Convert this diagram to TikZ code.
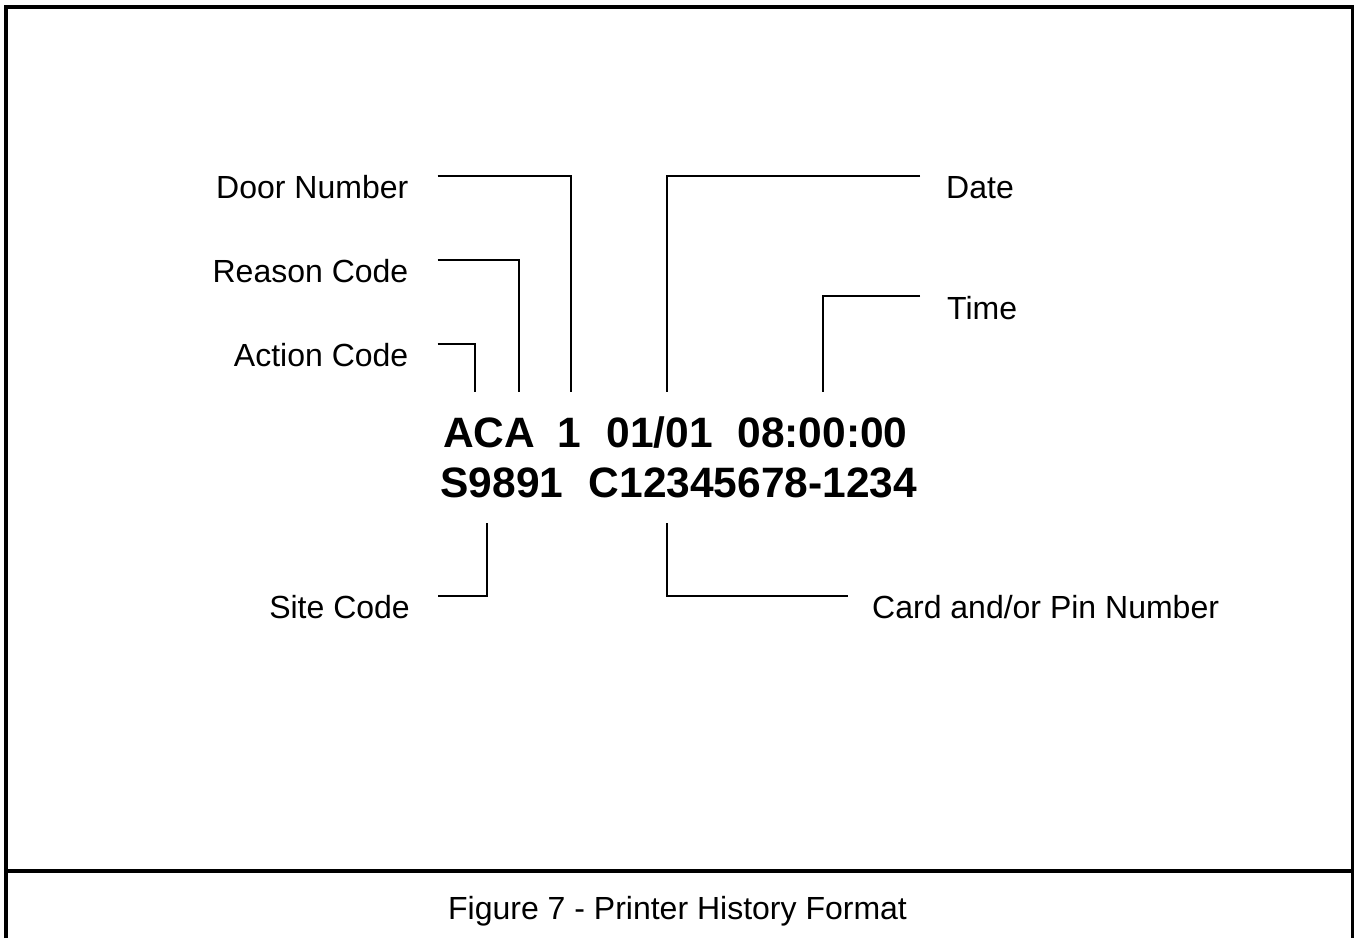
\documentclass[tikz,border=0pt]{standalone}
\usepackage{fontspec}
\setmainfont{Liberation Sans}
\begin{document}
\begin{tikzpicture}[x=1pt,y=-1pt,
  frame/.style={line width=3.6pt},
  leader/.style={line width=1.8pt},
  lbl/.style={inner sep=0pt,font=\fontsize{32}{38}\selectfont},
  rec/.style={inner sep=0pt,font=\fontsize{42.5}{50}\selectfont\bfseries,anchor=base west}]
\useasboundingbox (0,0) rectangle (1356,938);

% outer frame and caption divider
\draw[frame] (5.7,938) -- (5.7,6.8) -- (1352.5,6.8) -- (1352.5,938);
\draw[frame] (5.7,871) -- (1352.5,871);

% printed record
\node[rec] (aca)  at (443,447)   {ACA};
\node[rec] (door) at (557.5,447) {1};
\node[rec] (date) at (606.3,447) {01/01};
\node[rec] (time) at (737.3,447) {08:00:00};
\node[rec] (site) at (440.3,497) {S9891};
\node[rec] (card) at (588.5,497) {C12345678-1234};

% field labels
\node[lbl,anchor=base east] (lDoor)   at (408.5,198.3) {Door Number};
\node[lbl,anchor=base east] (lReason) at (408.5,282.3) {Reason Code};
\node[lbl,anchor=base east] (lAction) at (408.5,366.3) {Action Code};
\node[lbl,anchor=base east] (lSite)   at (410,618.3)   {Site Code};
\node[lbl,anchor=base west] (lDate)   at (946,198.3)   {Date};
\node[lbl,anchor=base west] (lTime)   at (947,319)     {Time};
\node[lbl,anchor=base west] (lCard)   at (872,618.3)   {Card and/or Pin Number};

% leader end points
\coordinate (dA) at (437.7,175.7); \coordinate (dB) at (571.3,392);
\coordinate (rA) at (437.7,259.7); \coordinate (rB) at (518.7,392);
\coordinate (aA) at (437.7,343.7); \coordinate (aB) at (475,392);
\coordinate (tA) at (920,175.7);   \coordinate (tB) at (667,392);
\coordinate (hA) at (920,296);     \coordinate (hB) at (823,392);
\coordinate (sA) at (438,596);     \coordinate (sB) at (487,523);
\coordinate (cA) at (847.7,596);   \coordinate (cB) at (667,523);

% leaders
\draw[leader] (dA) -| (dB);
\draw[leader] (rA) -| (rB);
\draw[leader] (aA) -| (aB);
\draw[leader] (tA) -| (tB);
\draw[leader] (hA) -| (hB);
\draw[leader] (sA) -| (sB);
\draw[leader] (cA) -| (cB);

% caption
\node[lbl,anchor=base] (caption) at (677.5,919) {Figure 7 - Printer History Format};
\end{tikzpicture}
\end{document}
